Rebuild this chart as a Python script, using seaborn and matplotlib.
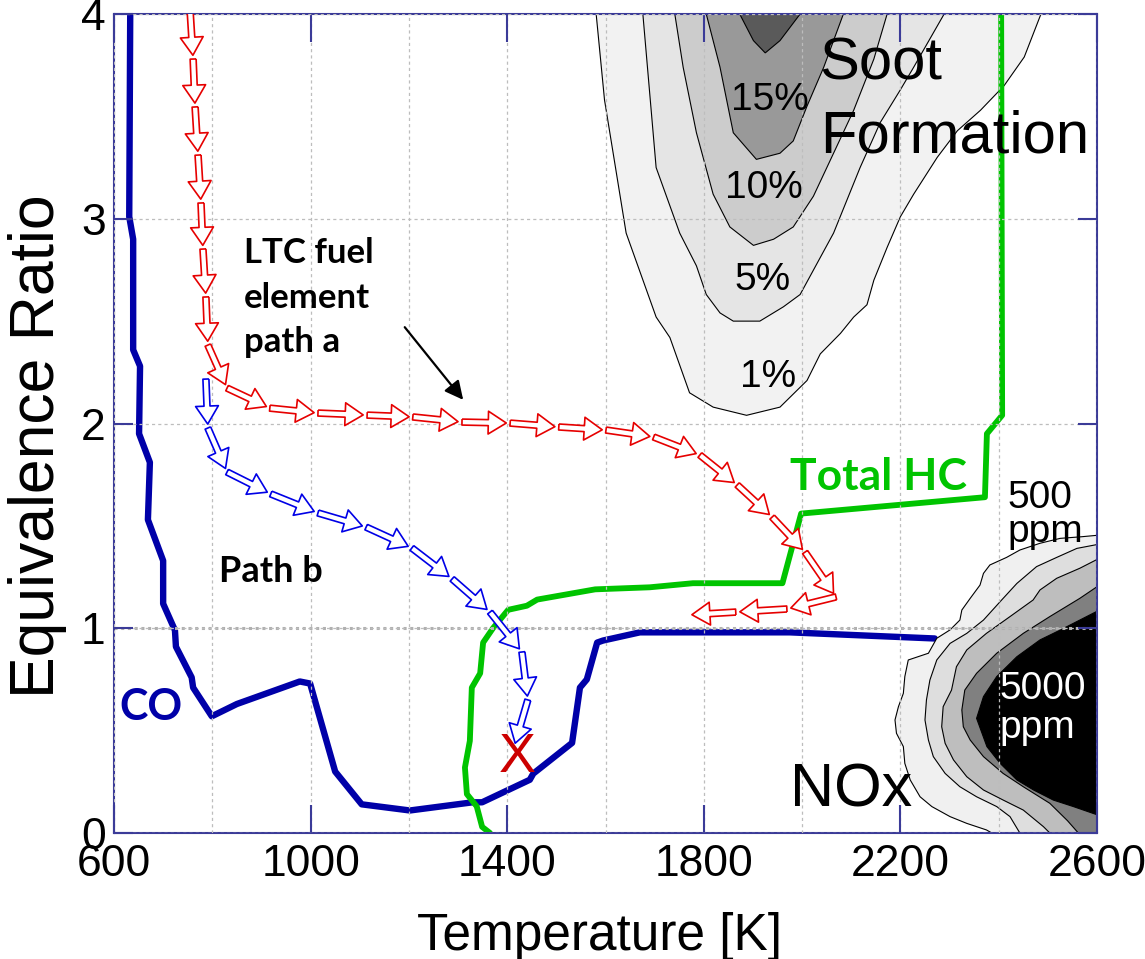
import numpy as np
import pandas as pd
import seaborn as sns
import matplotlib.pyplot as plt

# ---- values (temperature [K], equivalence ratio) ----
x_ticks = [600, 1000, 1400, 1800, 2200, 2600]
x_minor = [800, 1200, 1600, 2000, 2400]
y_ticks = [0, 1, 2, 3, 4]

co_T = [633, 631, 639, 639, 653, 651, 673, 669, 700, 700, 724, 726, 758, 761, 799, 850, 978, 999,
        1050, 1104, 1202, 1330, 1349, 1446, 1453, 1532, 1548, 1562, 1583, 1595, 1670, 1752, 1874,
        1975, 2270]
co_phi = [4.0, 3.01, 2.90, 2.36, 2.28, 1.95, 1.81, 1.53, 1.33, 1.12, 0.99, 0.91, 0.76, 0.71, 0.57,
          0.63, 0.74, 0.73, 0.30, 0.14, 0.11, 0.15, 0.15, 0.26, 0.29, 0.44, 0.71, 0.75, 0.93, 0.94,
          0.98, 0.98, 0.98, 0.98, 0.95]

hc_T = [1365, 1349, 1338, 1318, 1314, 1324, 1328, 1345, 1351, 1371, 1402, 1440, 1461, 1579, 1690,
        1778, 1960, 1998, 2372, 2376, 2407, 2405]
hc_phi = [0.0, 0.03, 0.13, 0.19, 0.32, 0.45, 0.71, 0.78, 0.93, 1.00, 1.09, 1.11, 1.14, 1.19, 1.20,
          1.22, 1.22, 1.56, 1.64, 1.95, 2.04, 4.0]

# fuel element paths: one point per arrow, last point = end of the path
path_a_T = [755, 761, 765, 771, 777, 781, 787, 791, 830, 917, 1015, 1115, 1208, 1308, 1406, 1505,
            1601, 1698, 1792, 1868, 1939, 2006, 2069, 1969, 1865, 1768]
path_a_phi = [4.01, 3.78, 3.546, 3.311, 3.077, 2.852, 2.618, 2.383, 2.173, 2.075, 2.051, 2.041,
              2.032, 2.007, 2.002, 1.983, 1.968, 1.934, 1.846, 1.700, 1.543, 1.372, 1.153, 1.094,
              1.079, 1.065]
path_b_T = [787, 791, 830, 919, 1015, 1113, 1206, 1288, 1365, 1430, 1442, 1414]
path_b_phi = [2.217, 1.978, 1.763, 1.656, 1.563, 1.494, 1.392, 1.241, 1.079, 0.884, 0.650, 0.420]

# soot yield contours, outer to inner
soot_1_T = [1581, 1598, 1642, 1703, 1731, 1771, 1819, 1887, 1955, 2010, 2037, 2078, 2105, 2132,
            2146, 2173, 2200, 2227, 2275, 2316, 2363, 2411, 2452, 2486]
soot_1_phi = [4.0, 3.58, 2.93, 2.52, 2.42, 2.15, 2.08, 2.04, 2.08, 2.21, 2.34, 2.44, 2.52, 2.58,
              2.70, 2.86, 3.01, 3.12, 3.30, 3.43, 3.53, 3.65, 3.79, 4.0]
soot_5_T = [1676, 1703, 1751, 1785, 1805, 1833, 1860, 1914, 1962, 1996, 2064, 2118, 2159, 2200,
            2227, 2289]
soot_5_phi = [4.0, 3.25, 2.93, 2.77, 2.63, 2.54, 2.50, 2.50, 2.57, 2.63, 2.93, 3.25, 3.47, 3.63,
              3.74, 4.0]
soot_10_T = [1741, 1758, 1785, 1819, 1853, 1901, 1942, 1982, 2023, 2064, 2105, 2146, 2173]
soot_10_phi = [4.0, 3.74, 3.42, 3.12, 2.96, 2.87, 2.90, 2.96, 3.11, 3.32, 3.53, 3.78, 4.0]
soot_15_T = [1805, 1833, 1860, 1907, 1955, 1982, 2010, 2044, 2084]
soot_15_phi = [4.0, 3.74, 3.42, 3.29, 3.32, 3.38, 3.55, 3.74, 4.0]
soot_20_T = [1873, 1901, 1925, 1955, 1996]
soot_20_phi = [4.0, 3.87, 3.81, 3.87, 4.0]

# NOx contours, outer (500 ppm) to inner (5000 ppm)
nox_500_T = [2605, 2569, 2525, 2484, 2443, 2416, 2382, 2369, 2362, 2342, 2325, 2321, 2301, 2274,
             2257, 2216, 2209, 2206, 2196, 2189, 2192, 2206, 2209, 2220, 2240, 2264, 2301, 2335,
             2375, 2386]
nox_500_phi = [1.455, 1.447, 1.439, 1.415, 1.382, 1.346, 1.309, 1.268, 1.211, 1.146, 1.089, 1.040,
               0.992, 0.951, 0.878, 0.845, 0.764, 0.682, 0.617, 0.552, 0.487, 0.422, 0.340, 0.259,
               0.177, 0.129, 0.080, 0.047, 0.015, 0.0]
nox_b_T = [2605, 2559, 2518, 2477, 2437, 2406, 2369, 2335, 2301, 2274, 2260, 2253, 2250, 2257,
           2267, 2291, 2321, 2355, 2396, 2423, 2443]
nox_b_phi = [1.411, 1.390, 1.346, 1.301, 1.219, 1.138, 1.040, 0.975, 0.926, 0.845, 0.747, 0.650,
             0.552, 0.454, 0.373, 0.291, 0.226, 0.177, 0.129, 0.080, 0.0]
nox_c_T = [2605, 2565, 2518, 2484, 2470, 2423, 2375, 2335, 2314, 2304, 2287, 2284, 2291, 2308,
           2335, 2369, 2409, 2450, 2491, 2504]
nox_c_phi = [1.342, 1.293, 1.244, 1.187, 1.138, 1.057, 0.975, 0.894, 0.812, 0.698, 0.617, 0.519,
             0.438, 0.357, 0.275, 0.210, 0.161, 0.112, 0.031, 0.0]
nox_d_T = [2605, 2565, 2504, 2450, 2396, 2355, 2331, 2325, 2328, 2342, 2369, 2409, 2450, 2504,
           2540, 2562]
nox_d_phi = [1.211, 1.146, 1.057, 0.975, 0.878, 0.780, 0.698, 0.601, 0.519, 0.454, 0.373, 0.291,
             0.226, 0.145, 0.06, 0.0]
nox_5000_T = [2605, 2565, 2525, 2484, 2437, 2396, 2369, 2355, 2376, 2403, 2437, 2471, 2511, 2552,
              2605]
nox_5000_phi = [1.089, 1.040, 0.991, 0.943, 0.861, 0.764, 0.666, 0.560, 0.422, 0.340, 0.259, 0.210,
                0.161, 0.129, 0.085]

soot_labels = ["1%", "5%", "10%", "15%"]
soot_label_T = [1931, 1920, 1922, 1935]
soot_label_phi = [2.178, 2.652, 3.101, 3.531]

sns.set_theme(style="white")
plt.rcParams["font.family"] = ["Liberation Sans", "DejaVu Sans"]
plt.rcParams["text.color"] = "black"
plt.rcParams["axes.labelcolor"] = "black"
bold_font = ["Lato", "DejaVu Sans"]
spine_col = "#3b3b98"

fig = plt.figure(figsize=(11.45, 9.59), dpi=100)
ax = fig.add_axes([114 / 1145, 126 / 959, 983 / 1145, 819 / 959])


def fill_region(T, phi, color, z, corner=False):
    T = list(T)
    phi = list(phi)
    if corner:  # close the region through the lower right corner of the plot
        T += [2620]
        phi += [-0.05]
    ax.fill(T, phi, facecolor=color, edgecolor="black", linewidth=0.8, zorder=z)


soot = [(soot_1_T, soot_1_phi), (soot_5_T, soot_5_phi), (soot_10_T, soot_10_phi),
        (soot_15_T, soot_15_phi), (soot_20_T, soot_20_phi)]
soot_colors = ["#f2f2f2", "#e5e5e5", "#cccccc", "#999999", "#5a5a5a"]
for (T, phi), c in zip(soot, soot_colors):
    fill_region(T, phi, c, 1)

nox = [(nox_500_T, nox_500_phi), (nox_b_T, nox_b_phi), (nox_c_T, nox_c_phi),
       (nox_d_T, nox_d_phi), (nox_5000_T, nox_5000_phi)]
nox_colors = ["#f0f0f0", "#dedede", "#bebebe", "#808080", "#000000"]
for i, ((T, phi), c) in enumerate(zip(nox, nox_colors)):
    fill_region(T, phi, c, 2.2, corner=(i < 4))

co = pd.DataFrame({"T": co_T, "phi": co_phi})
hc = pd.DataFrame({"T": hc_T, "phi": hc_phi})
sns.lineplot(data=co, x="T", y="phi", sort=False, estimator=None, color="#0000a8",
             linewidth=4.6, ax=ax, zorder=1.8)
sns.lineplot(data=hc, x="T", y="phi", sort=False, estimator=None, color="#00c400",
             linewidth=4.2, ax=ax, zorder=1.9)


def draw_path(T, phi, color):
    T = np.asarray(T, float)
    phi = np.asarray(phi, float)
    ax.quiver(T[:-1], phi[:-1], np.diff(T) * 0.92, np.diff(phi) * 0.92,
              angles="xy", scale_units="xy", scale=1, units="dots", width=6,
              headwidth=3.8, headlength=3.0, headaxislength=3.0,
              facecolors="white", edgecolors=color, linewidths=1.2, zorder=2.7)


draw_path(path_a_T, path_a_phi, "#e60000")
draw_path(path_b_T, path_b_phi, "#0000e6")

# annotation arrow pointing at path a
ax.annotate("", xy=(1314, 2.105), xytext=(1188, 2.481),
            arrowprops=dict(arrowstyle="-|>", color="black", lw=1.6, mutation_scale=28),
            zorder=3)

# contour labels
for lab, t, p in zip(soot_labels, soot_label_T, soot_label_phi):
    ax.text(t, p, lab, fontsize=28, ha="center", va="baseline", zorder=3)
for s, p in zip(["Soot", "Formation"], [3.678, 3.326]):
    ax.text(2036, p, s, fontsize=43, ha="left", va="baseline", zorder=3)
for s, p in zip(["500", "ppm"], [1.585, 1.421]):
    ax.text(2417, p, s, fontsize=28, ha="left", va="baseline", zorder=3)
for s, p in zip(["5000", "ppm"], [0.655, 0.464]):
    ax.text(2401, p, s, fontsize=28, color="white", ha="left", va="baseline", zorder=3)
ax.text(1975, 0.127, "NOx", fontsize=44, ha="left", va="baseline", zorder=3)

for s, p in zip(["LTC fuel", "element", "path a"], [2.784, 2.564, 2.349]):
    ax.text(864, p, s, fontsize=25, fontweight="bold", family=bold_font, ha="left",
            va="baseline", zorder=3)
ax.text(814, 1.226, "Path b", fontsize=26, fontweight="bold", family=bold_font,
        ha="left", va="baseline", zorder=3)
ax.text(610, 0.552, "CO", fontsize=31, fontweight="bold", family=bold_font,
        color="#0000a8", ha="left", va="baseline", zorder=3)
ax.text(1975, 1.675, "Total HC", fontsize=32, fontweight="bold", family=bold_font,
        color="#00c400", ha="left", va="baseline", zorder=3)
ax.text(1420, 0.298, "X", fontsize=40, color="#cc0000", ha="center", va="baseline", zorder=3)

# axes styling
ax.set_xlim(600, 2600)
ax.set_ylim(0, 4)
ax.set_xticks(x_ticks)
ax.set_xticks(x_minor, minor=True)
ax.set_yticks(y_ticks)
ax.set_axisbelow(False)
ax.grid(True, which="both", axis="x", color="#bdbdbd", linestyle=(0, (2.5, 2.5)), linewidth=0.9)
ax.grid(True, which="major", axis="y", color="#bdbdbd", linestyle=(0, (2.5, 2.5)), linewidth=0.9)
ax.axhline(1, color="#b0b0b0", linestyle=(0, (1, 1.2)), linewidth=2.2, zorder=2.5)

for sp in ax.spines.values():
    sp.set_color(spine_col)
    sp.set_linewidth(1.5)
ax.tick_params(axis="x", which="major", direction="in", length=20, width=1.5, color=spine_col,
               top=True, bottom=True, labelsize=32, pad=8, labelcolor="black")
ax.tick_params(axis="x", which="minor", length=0)
ax.tick_params(axis="y", which="major", direction="in", length=14, width=1.5, color=spine_col,
               left=True, right=True, labelsize=32, pad=6, labelcolor="black")

ax.set_xlabel("Temperature [K]", fontsize=37, color="black")
ax.set_ylabel("Equivalence Ratio", fontsize=45, color="black")
ax.xaxis.set_label_coords(0.494, -0.096)
ax.yaxis.set_label_coords(-0.048, 0.4725)

fig.savefig("out.png", dpi=100)
